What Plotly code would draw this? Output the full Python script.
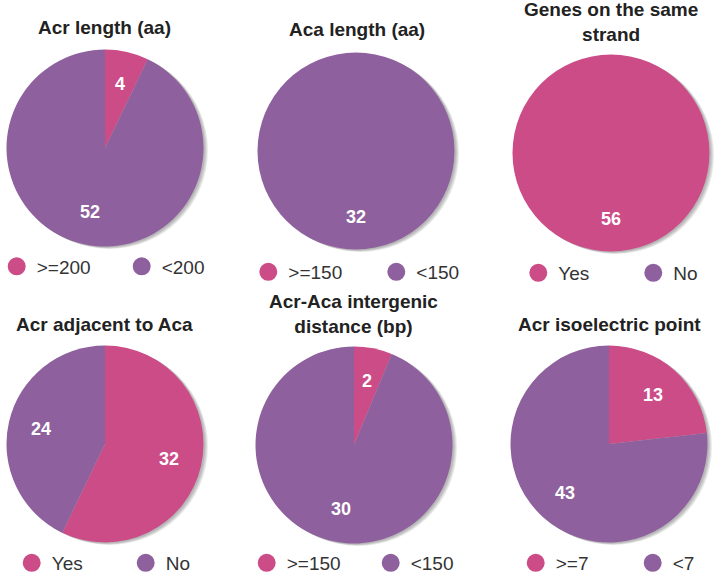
import math
import plotly.graph_objects as go

W, H = 724, 573

# ---- data ----
titles = [
    "Acr length (aa)",
    "Aca length (aa)",
    "Genes on the same<br>strand",
    "Acr adjacent to Aca",
    "Acr-Aca intergenic<br>distance (bp)",
    "Acr isoelectric point",
]
categories = [
    [">=200", "<200"],
    [">=150", "<150"],
    ["Yes", "No"],
    ["Yes", "No"],
    [">=150", "<150"],
    [">=7", "<7"],
]
acr_len = [4, 52]
aca_len = [0, 32]
same_strand = [56, 0]
adjacent = [32, 24]
intergenic = [2, 30]
isoelectric = [13, 43]
values = [acr_len, aca_len, same_strand, adjacent, intergenic, isoelectric]

# ---- style / layout ----
colors = ["#CC4C88", "#8E609E"]
pie_cx = [105, 356, 611, 105, 354, 609]
pie_cy = [148, 151, 153, 444, 445, 444]
pie_r = 98.5
title_x = [104, 357, 611, 104, 353, 609]
title_y = [27.5, 30, 22.5, 324, 314, 324]
leg_x0 = [16.7, 268.3, 538.3, 31.7, 266.7, 535.7]   # first legend symbol centre
leg_sp = [125, 128, 115, 114, 124, 117]               # spacing between items
leg_y = [266.5, 272, 273, 563, 563, 563]

FONT = "Liberation Sans, Arial, Helvetica, sans-serif"


def dom(cx, cy, r):
    return dict(x=[(cx - r) / W, (cx + r) / W],
                y=[1 - (cy + r) / H, 1 - (cy - r) / H])


fig = go.Figure()
annotations = []

shadow_offsets = [(1.5, 1.0), (2.5, 1.5), (3.5, 2.0), (4.5, 2.5)]

for i in range(6):
    cx, cy = pie_cx[i], pie_cy[i]
    # soft drop shadow
    for (dx, dy) in shadow_offsets:
        fig.add_trace(go.Pie(
            values=[1], labels=["s"], domain=dom(cx + dx, cy + dy, pie_r),
            marker=dict(colors=["rgba(0,0,0,0.08)"], line=dict(width=0)),
            textinfo="none", hoverinfo="skip", showlegend=False, sort=False,
        ))
    fig.add_trace(go.Pie(
        values=values[i], labels=categories[i], domain=dom(cx, cy, pie_r),
        marker=dict(colors=colors, line=dict(width=0)),
        textinfo="none", direction="clockwise", rotation=0, sort=False,
        showlegend=False, hoverinfo="label+value",
    ))

    # value labels placed on slice bisector
    tot = sum(values[i])
    start = 0.0
    for v in values[i]:
        if v > 0:
            mid = (start + v / 2) / tot * 2 * math.pi
            px = cx + 0.665 * pie_r * math.sin(mid)
            py = cy - 0.665 * pie_r * math.cos(mid)
            annotations.append(dict(
                x=px / W, y=1 - py / H, xref="paper", yref="paper",
                text=f"<b>{v}</b>", showarrow=False,
                font=dict(family=FONT, size=18, color="white"),
                xanchor="center", yanchor="middle"))
        start += v

    # title
    annotations.append(dict(
        x=title_x[i] / W, y=1 - title_y[i] / H, xref="paper", yref="paper",
        text=f"<b>{titles[i]}</b>", showarrow=False,
        font=dict(family=FONT, size=19, color="#222222"),
        xanchor="center", yanchor="middle"))

    # legend entries (circle markers)
    lname = "legend" if i == 0 else f"legend{i + 1}"
    for k in range(2):
        fig.add_trace(go.Scatter(
            x=[None], y=[None], mode="markers", name=categories[i][k],
            marker=dict(symbol="circle", size=16, color=colors[k],
                        line=dict(width=2, color=colors[k])),
            legend=lname, showlegend=True, hoverinfo="skip",
        ))

layout_legends = {}
for i in range(6):
    lname = "legend" if i == 0 else f"legend{i + 1}"
    layout_legends[lname] = dict(
        orientation="h", x=(leg_x0[i] - 20) / W, xanchor="left",
        y=1 - leg_y[i] / H, yanchor="middle",
        entrywidth=leg_sp[i] - 45, entrywidthmode="pixels",
        font=dict(family=FONT, size=19, color="#333333"),
        bgcolor="rgba(0,0,0,0)", borderwidth=0, itemclick=False,
        itemdoubleclick=False, tracegroupgap=0,
    )

fig.update_layout(
    width=W, height=H,
    margin=dict(l=0, r=0, t=0, b=0, autoexpand=False),
    paper_bgcolor="white", plot_bgcolor="white",
    xaxis=dict(visible=False), yaxis=dict(visible=False),
    annotations=annotations,
    showlegend=True,
    **layout_legends,
)

fig.write_html(
    "out.html",
    config={"displayModeBar": False},
    post_script="document.body.style.margin='0px';document.body.style.overflow='hidden';",
)
